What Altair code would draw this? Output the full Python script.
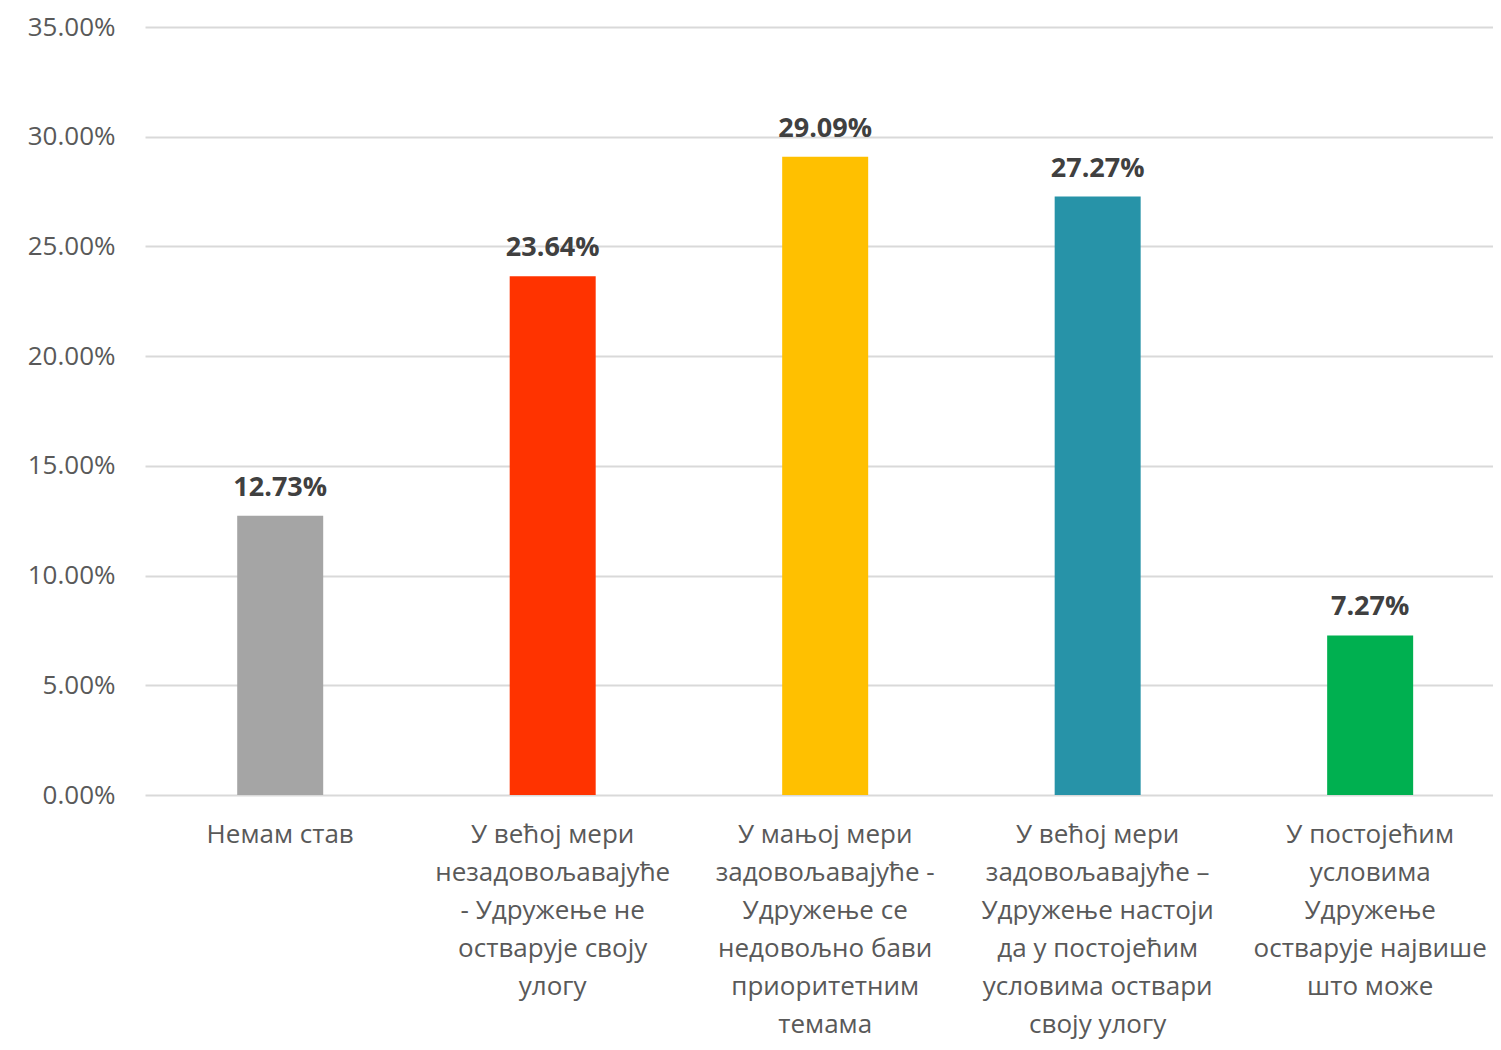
import altair as alt
import pandas as pd

categories = [
    "Немам став",
    "У већој мери|незадовољавајуће|- Удружење не|остварује своју|улогу",
    "У мањој мери|задовољавајуће -|Удружење се|недовољно бави|приоритетним|темама",
    "У већој мери|задовољавајуће –|Удружење настоји|да у постојећим|условима оствари|своју улогу",
    "У постојећим|условима|Удружење|остварује највише|што може",
]
values = [0.1273, 0.2364, 0.2909, 0.2727, 0.0727]
colors = ["#A5A5A5", "#FF3300", "#FFC000", "#2793A8", "#00B050"]

df = pd.DataFrame({"cat": categories, "val": values, "col": colors})

FONT = "Open Sans"

base = alt.Chart(df).encode(
    x=alt.X("cat:N", sort=categories, title=None,
            scale=alt.Scale(paddingInner=0.683, paddingOuter=0.315, align=0.536),
            axis=alt.Axis(labelAngle=0, labelExpr="split(datum.label, '|')",
                          labelFontSize=26, labelLineHeight=38, labelColor="#595959",
                          labelFont=FONT, labelPadding=26, domain=False, ticks=False,
                          labelLimit=400)),
)

bars = base.mark_bar(size=86).encode(
    y=alt.Y("val:Q", scale=alt.Scale(domain=[0, 0.35]), title=None,
            axis=alt.Axis(format=".2%", values=[0, 0.05, 0.1, 0.15, 0.2, 0.25, 0.3, 0.35],
                          labelFontSize=26, labelColor="#595959", labelFont=FONT,
                          labelPadding=30, domain=False, ticks=False,
                          gridColor="#D9D9D9", gridWidth=2)),
    color=alt.Color("col:N", scale=None),
)

labels = base.mark_text(baseline="bottom", dy=-14, fontSize=27, fontWeight="bold",
                        color="#404040", font=FONT).encode(
    y="val:Q",
    text=alt.Text("val:Q", format=".2%"),
)

chart = (bars + labels).properties(
    width=1348, height=768,
    autosize=alt.AutoSizeParams(type="none"),
    padding={"left": 137, "top": 19, "right": 0, "bottom": 246},
    background="white",
).configure_view(stroke=None)

chart.save("out.html", embed_options={"renderer": "svg", "actions": False})
